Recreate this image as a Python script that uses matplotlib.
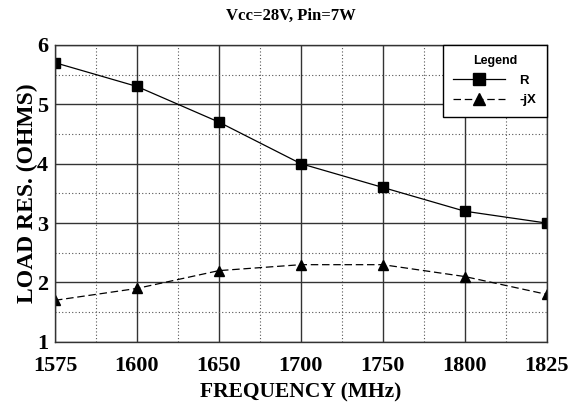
import matplotlib.pyplot as plt
from matplotlib.ticker import MultipleLocator

freqs = ["1575", "1600", "1650", "1700", "1750", "1800", "1825"]
r_vals = [5.7, 5.3, 4.7, 4.0, 3.6, 3.2, 3.0]
jx_vals = [1.7, 1.9, 2.2, 2.3, 2.3, 2.1, 1.8]

serif = "Liberation Serif"
sans = "Liberation Sans"

fig = plt.figure(figsize=(5.82, 4.08), dpi=100)
ax = fig.add_axes([0.0945, 0.162, 0.845, 0.728])

x = list(range(len(freqs)))
ax.plot(x, r_vals, "-", color="black", lw=0.9, marker="s", ms=6.5, label="R")
ax.plot(x, jx_vals, "--", color="black", lw=0.9, marker="^", ms=6.5,
        dashes=(6, 3), label="-jX")

ax.set_xlim(0, len(freqs) - 1)
ax.set_ylim(1, 6)
ax.set_xticks(x)
ax.set_xticklabels(freqs)
ax.xaxis.set_minor_locator(MultipleLocator(0.5))
ax.yaxis.set_major_locator(MultipleLocator(1))
ax.yaxis.set_minor_locator(MultipleLocator(0.5))

ax.grid(which="major", color="#333333", lw=1.0, ls="-")
ax.grid(which="minor", color="#555555", lw=0.8, ls=(0, (1, 2)))
ax.set_axisbelow(True)
ax.tick_params(which="both", length=0)
ax.tick_params(axis="x", pad=10)
ax.tick_params(axis="y", pad=5)
for lab in ax.get_xticklabels() + ax.get_yticklabels():
    lab.set_fontfamily(serif)
    lab.set_fontweight("bold")
    lab.set_fontsize(16)
for s in ax.spines.values():
    s.set_linewidth(1.0)
    s.set_color("#333333")

ax.set_xlabel("FREQUENCY (MHz)", fontfamily=serif, fontweight="bold",
              fontsize=15.5, labelpad=5)
ax.set_ylabel("LOAD RES. (OHMS)", fontfamily=serif, fontweight="bold",
              fontsize=17, labelpad=-1)
fig.text(0.5, 0.962, "Vcc=28V, Pin=7W", ha="center", va="center",
         fontfamily=serif, fontweight="bold", fontsize=12)

leg = ax.legend(loc="upper right", borderaxespad=0, fancybox=False,
                framealpha=1, edgecolor="black", title="Legend",
                prop={"family": sans, "weight": "bold", "size": 9.5},
                title_fontproperties={"family": sans, "weight": "bold",
                                      "size": 9},
                handlelength=3.9, handletextpad=1.1, borderpad=0.8,
                labelspacing=0.55, markerscale=1.3)
leg.get_frame().set_linewidth(1.0)

fig.savefig("out.png", dpi=100)
